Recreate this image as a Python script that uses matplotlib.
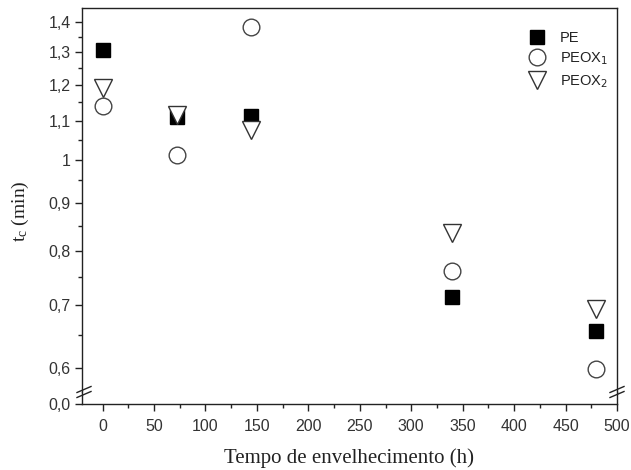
import matplotlib
matplotlib.use('Agg')
import matplotlib.pyplot as plt
import matplotlib.ticker as ticker
from matplotlib.lines import Line2D

# tempo de envelhecimento (h)
tempo = [0, 72, 144, 340, 480]
# tc (min)
tc_PE = [1.307, 1.11, 1.112, 0.714, 0.657]
tc_PEOX1 = [1.14, 1.011, 1.383, 0.761, 0.599]
tc_PEOX2 = [1.191, 1.115, 1.075, 0.835, 0.693]

ymajor = [0.6, 0.7, 0.8, 0.9, 1.0, 1.1, 1.2, 1.3, 1.4]
ylabels = ['0,6', '0,7', '0,8', '0,9', '1', '1,1', '1,2', '1,3', '1,4']
yminor = [0.65, 0.75, 0.85, 0.95, 1.05, 1.15, 1.25, 1.35]
xmajor = [0, 50, 100, 150, 200, 250, 300, 350, 400, 450, 500]

W, H = 631, 470
plt.rcParams['font.family'] = ['Liberation Sans', 'DejaVu Sans']
fig = plt.figure(figsize=(W/100., H/100.), dpi=100)

def fx(px): return px/float(W)
def fy(py): return 1 - py/float(H)

left, right, top, brk, bottom = 82, 617, 8, 392, 404
ax1 = fig.add_axes([fx(left), fy(brk), fx(right-left), (brk-top)/float(H)])
ax2 = fig.add_axes([fx(left), fy(bottom), fx(right-left), (bottom-brk)/float(H)], sharex=ax1)

ax1.plot(tempo, tc_PE, ls='none', marker='s', ms=9.5, mfc='black', mec='black', label='PE')
ax1.plot(tempo, tc_PEOX1, ls='none', marker='o', ms=12, mfc='white', mec='#444444', mew=1.0, label=r'PEOX$_1$')
ax1.plot(tempo, tc_PEOX2, ls='none', marker='v', ms=13.5, mfc='white', mec='#333333', mew=1.0, label=r'PEOX$_2$')

ax1.set_yscale('log')
ax1.set_ylim(0.566, 1.449)
ax1.yaxis.set_major_locator(ticker.FixedLocator(ymajor))
ax1.yaxis.set_major_formatter(ticker.FixedFormatter(ylabels))
ax1.yaxis.set_minor_locator(ticker.FixedLocator(yminor))
ax1.yaxis.set_minor_formatter(ticker.NullFormatter())
ax1.spines['bottom'].set_visible(False)
ax1.tick_params(axis='x', which='both', bottom=False, labelbottom=False)

ax2.set_xlim(-20, 500)
ax2.set_ylim(0, 1)
ax2.set_yticks([0])
ax2.set_yticklabels(['0,0'])
ax2.spines['top'].set_visible(False)
ax2.xaxis.set_major_locator(ticker.FixedLocator(xmajor))
ax2.xaxis.set_minor_locator(ticker.MultipleLocator(25))

for ax in (ax1, ax2):
    for s in ax.spines.values():
        s.set_linewidth(1.0)
        s.set_color('#222222')
    ax.tick_params(which='major', direction='out', length=5, width=1.0, labelsize=11.5,
                   labelcolor='#333333', color='#222222', pad=3)
    ax.tick_params(which='minor', direction='out', length=3, width=1.0, color='#222222')
    ax.tick_params(right=False, top=False)
ax2.tick_params(axis='x', pad=6)

ax2.set_xlabel('Tempo de envelhecimento (h)', family='Liberation Serif', fontsize=15,
               color='#222222', labelpad=10)
ax1.set_ylabel(r'$\mathregular{t_c}$ (min)', family='Liberation Serif', fontsize=14,
               color='#222222')
ax1.yaxis.set_label_coords(-0.095, 0.47)

# break marks
for cx in (left + 2, right):
    for off in (-2.5, 2.5):
        fig.add_artist(Line2D([fx(cx-7), fx(cx+7)], [fy(brk+3+off), fy(brk-3+off)],
                              color='#222222', lw=1.0))

leg = ax1.legend(loc='upper left', bbox_to_anchor=(0.798, 0.975), frameon=False,
                 fontsize=10.5, handletextpad=0.6, labelspacing=0.4, numpoints=1)
for t in leg.get_texts():
    t.set_color('#222222')

fig.savefig('out.png', dpi=100)
